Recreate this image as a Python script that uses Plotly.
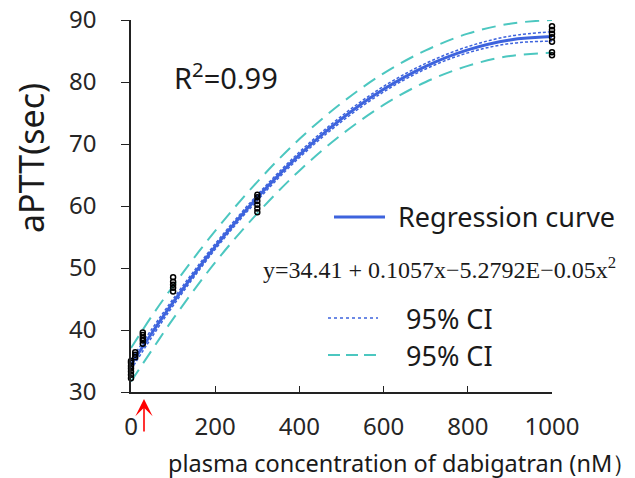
import plotly.graph_objects as go

# Regression curve and confidence bands
curve_x = [0, 50, 100, 200, 300, 400, 500, 600, 700, 800, 900, 1000]
curve_y = [34.41, 39.56, 44.45, 53.44, 61.37, 68.24, 74.06, 78.83, 82.53, 85.18, 86.78, 87.32]
outer_upper = [37.1, 42.3, 47.1, 56.0, 63.9, 70.8, 76.6, 81.4, 85.1, 87.8, 89.4, 90.0]
outer_lower = [31.7, 36.8, 41.8, 50.9, 58.8, 65.7, 71.5, 76.3, 80.0, 82.6, 84.2, 84.7]
inner_upper = [35.2, 40.2, 45.0, 53.9, 61.8, 68.7, 74.5, 79.3, 83.0, 85.7, 87.4, 88.1]
inner_lower = [33.6, 38.9, 43.9, 53.0, 60.9, 67.8, 73.6, 78.4, 82.1, 84.7, 86.2, 86.6]

# Observed points
obs_x = [0, 0, 0, 0, 0, 0, 0,
         10, 10, 10,
         28, 28, 28, 28, 28,
         100, 100, 100, 100, 100,
         300, 300, 300, 300, 300, 300,
         1000, 1000, 1000, 1000, 1000, 1000, 1000]
obs_y = [32.2, 32.8, 33.3, 33.8, 34.2, 34.7, 35.0,
         35.6, 36.0, 36.4,
         37.8, 38.3, 38.7, 39.2, 39.6,
         46.2, 46.8, 47.3, 47.8, 48.5,
         59.0, 59.6, 60.2, 60.8, 61.4, 61.8,
         84.3, 84.8, 86.5, 87.2, 87.8, 88.4, 89.0]

x_ticks = [0, 200, 400, 600, 800, 1000]
y_ticks = [30, 40, 50, 60, 70, 80, 90]

BLUE = "#3d63dd"
CYAN = "#4cc7c0"
FONT = "Noto Sans"
TXT = "#1a1a1a"

fig = go.Figure()
for ys in (outer_upper, outer_lower):
    fig.add_trace(go.Scatter(x=curve_x, y=ys, mode="lines", line=dict(color=CYAN, width=2, dash="14px,8px", shape="spline"),
                             hoverinfo="skip", showlegend=False, cliponaxis=False))
for ys in (inner_upper, inner_lower):
    fig.add_trace(go.Scatter(x=curve_x, y=ys, mode="lines", line=dict(color=BLUE, width=1.5, dash="3px,2px", shape="spline"),
                             hoverinfo="skip", showlegend=False, cliponaxis=False))
fig.add_trace(go.Scatter(x=curve_x, y=curve_y, mode="lines", line=dict(color=BLUE, width=3, shape="spline"),
                         showlegend=False, cliponaxis=False))
fig.add_trace(go.Scatter(x=obs_x, y=obs_y, mode="markers",
                         marker=dict(symbol="circle-open", color="black", size=5, line=dict(width=1.5)),
                         showlegend=False, cliponaxis=False))

L, R, T, B = 131, 83, 20, 86
W, H = 635 - L - R, 478 - T - B

def px(x):
    return (x - L) / W

def py(y):
    return (478 - B - y) / H

# custom legend
fig.add_shape(type="line", xref="paper", yref="paper", x0=px(334), x1=px(385), y0=py(217), y1=py(217),
              line=dict(color=BLUE, width=3))
fig.add_annotation(xref="paper", yref="paper", x=px(396), y=py(216), text="Regression curve", showarrow=False,
                   xanchor="left", yanchor="middle", font=dict(family=FONT, size=27, color=TXT))
fig.add_annotation(xref="paper", yref="paper", x=px(261), y=py(268),
                   text="y=34.41 + 0.1057x\u22125.2792E\u22120.05x<sup>2</sup>", showarrow=False,
                   xanchor="left", yanchor="middle", font=dict(family="Liberation Serif", size=24, color=TXT))
fig.add_shape(type="line", xref="paper", yref="paper", x0=px(328), x1=px(378), y0=py(318), y1=py(318),
              line=dict(color=BLUE, width=1.5, dash="3px,3px"))
fig.add_annotation(xref="paper", yref="paper", x=px(404), y=py(318), text="95% CI", showarrow=False,
                   xanchor="left", yanchor="middle", font=dict(family=FONT, size=27, color=TXT))
fig.add_shape(type="line", xref="paper", yref="paper", x0=px(328), x1=px(376), y0=py(355), y1=py(355),
              line=dict(color=CYAN, width=2, dash="12px,6px"))
fig.add_annotation(xref="paper", yref="paper", x=px(404), y=py(355), text="95% CI", showarrow=False,
                   xanchor="left", yanchor="middle", font=dict(family=FONT, size=27, color=TXT))

fig.add_annotation(xref="paper", yref="paper", x=px(172), y=py(76), text="R<sup>2</sup>=0.99", showarrow=False,
                   xanchor="left", yanchor="middle", font=dict(family=FONT, size=29, color=TXT))

# red arrow
fig.add_annotation(xref="paper", yref="paper", x=px(144), y=py(399), ax=0, ay=34,
                   text="", showarrow=True, arrowhead=3, arrowsize=1.8, standoff=0,
                   arrowwidth=1.6, arrowcolor="#ff0000")

# axis titles
fig.add_annotation(xref="paper", yref="paper", x=px(166), y=py(463), text="plasma concentration of dabigatran (nM\uff09",
                   showarrow=False, xanchor="left", yanchor="middle", font=dict(family=FONT, size=23.5, color=TXT))
fig.add_annotation(xref="paper", yref="paper", x=px(31), y=py(158), text="aPTT(sec)", textangle=-90,
                   showarrow=False, xanchor="center", yanchor="middle", font=dict(family=FONT, size=34, color=TXT))

fig.update_layout(
    width=635, height=478, paper_bgcolor="white", plot_bgcolor="white",
    margin=dict(l=L, r=R, t=T, b=B),
    font=dict(family=FONT, color="#262626"),
    xaxis=dict(range=[0, 1000], tickvals=x_ticks, ticks="inside", ticklen=6, tickcolor="#222",
               showline=True, linecolor="#222", linewidth=1.5, showgrid=False, zeroline=False,
               ticklabelstandoff=12, automargin=False,
               tickfont=dict(family=FONT, size=24, color="#262626")),
    yaxis=dict(range=[30, 90], tickvals=y_ticks, ticks="outside", ticklen=8, tickcolor="#222",
               showline=True, linecolor="#222", linewidth=1.5, showgrid=False, zeroline=False,
               ticklabelstandoff=20, automargin=False,
               tickfont=dict(family=FONT, size=24, color="#262626")),
)

fig.write_html("out.html")
